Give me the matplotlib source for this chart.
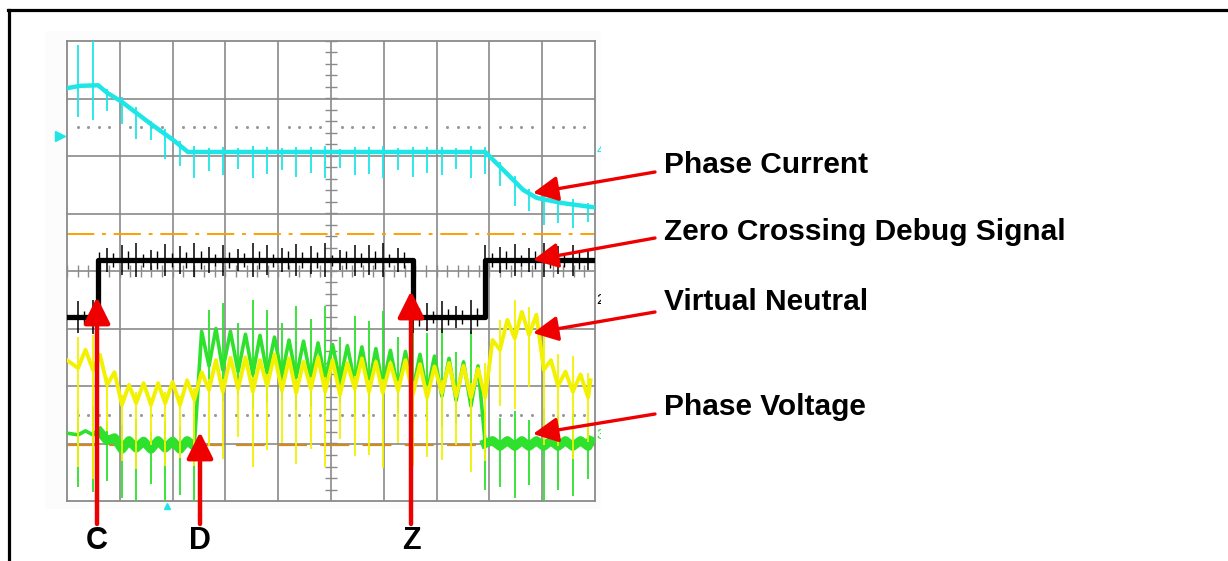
import numpy as np
import matplotlib
matplotlib.use("Agg")
import matplotlib.pyplot as plt

plt.rcParams['font.family'] = ['Liberation Sans', 'DejaVu Sans']

# scope traces, time in divisions (0..10), level in divisions (-4..4)
PWM_EDGES = [0.21, 0.49, 0.76, 1.04, 1.31, 1.59, 1.86, 2.14, 2.41, 2.69, 2.95, 3.24,
             3.52, 3.79, 4.07, 4.34, 4.62, 4.89, 5.17, 5.45, 5.72, 5.98, 6.27, 6.55,
             6.82, 7.10, 7.37, 7.65, 7.92, 8.20, 8.48, 8.75, 9.03, 9.30, 9.58, 9.87]
SPIKE_VAR = [0.9, 1.0, 0.7, 0.85, 1.0, 0.6, 0.95, 0.8, 1.0, 0.75, 0.9, 0.65,
             1.0, 0.85, 0.7, 0.95, 0.8, 1.0, 0.6, 0.9, 0.85, 1.0, 0.7, 0.95,
             0.8, 0.9, 0.65, 1.0, 0.85, 0.75, 0.95, 0.7, 1.0, 0.8, 0.9, 0.6]

# phase current (cyan)
CYAN_T = [0, 0.25, 0.59, 0.76, 1.04, 1.57, 2.01, 2.29, 7.92, 8.26, 8.64, 8.90, 9.39, 9.96]
CYAN_V = [3.18, 3.22, 3.23, 3.10, 2.94, 2.57, 2.28, 2.07, 2.07, 1.76, 1.41, 1.27, 1.18, 1.11]
CYAN_SPIKES = [(0, 0.6, 0.6, 0.8), (0.6, 10, 0.45, 0.1)]

# zero crossing debug signal (black)
BLACK_T = [0, 0.59, 0.59, 6.55, 6.55, 7.92, 7.92, 9.96]
BLACK_V = [-0.80, -0.80, 0.19, 0.19, -0.80, -0.80, 0.19, 0.19]
BLACK_SPIKES = [(0, 10, 0.3, 0.3)]
BLACK_NOISE = [(0, 10, 0.16, 0.16)]

# virtual neutral (yellow): value at each PWM edge and between edges
YEL_START = -1.55
YEL_LO = [-1.69, -1.72, -1.98, -2.33, -2.30, -2.33, -2.30, -2.33, -2.24, -2.07, -2.10, -2.05,
          -2.10, -2.00, -2.08, -2.12, -2.05, -2.10, -2.15, -2.05, -2.10, -2.12, -2.08, -2.15,
          -2.20, -2.12, -2.18, -2.20, -2.20, -1.37, -1.17, -1.11, -1.72, -2.00, -2.10, -2.20]
YEL_HI = [-1.37, -1.46, -1.76, -1.98, -1.95, -1.95, -1.93, -1.90, -1.76, -1.55, -1.51, -1.50,
          -1.55, -1.45, -1.52, -1.58, -1.50, -1.55, -1.60, -1.52, -1.58, -1.60, -1.55, -1.62,
          -1.66, -1.60, -1.65, -1.70, -1.20, -0.85, -0.71, -0.76, -1.55, -1.75, -1.80, -1.90]
YEL_SPIKES = [(0, 0.6, 1.9, 0.6), (0.6, 2.45, 1.15, 0.2), (2.45, 7.9, 1.3, 0.25), (7.9, 10, 1.3, 0.7)]

# phase voltage (green)
GRN_START = -2.82
GRN_LO = [-2.85, -2.85, -2.95, -3.10, -3.08, -3.10, -3.08, -3.10, -3.05, -1.65, -1.72, -1.75,
          -1.80, -1.78, -1.82, -1.85, -1.88, -1.90, -1.92, -1.95, -1.98, -2.00, -2.05, -2.08,
          -2.12, -2.18, -2.25, -2.35, -3.00, -3.05, -3.05, -3.05, -3.05, -3.05, -3.05, -3.05]
GRN_HI = [-2.78, -2.80, -2.90, -2.95, -2.96, -2.95, -2.96, -2.95, -1.05, -1.00, -1.05, -1.10,
          -1.12, -1.15, -1.20, -1.22, -1.25, -1.28, -1.30, -1.32, -1.35, -1.38, -1.40, -1.45,
          -1.48, -1.52, -1.58, -1.65, -2.95, -2.95, -2.95, -2.95, -2.95, -2.95, -2.95, -2.95]
GRN_SPIKES = [(0, 2.45, 1.0, 0.5), (2.45, 7.9, 0.6, 1.3), (7.9, 10, 0.95, 0.65)]
GRN_BANDS = [(0.6, 2.45), (7.92, 9.96)]

REF_DASHDOT = 0.64
REF_DASHED = -3.03

LABELS = ['Phase Current', 'Zero Crossing Debug Signal', 'Virtual Neutral', 'Phase Voltage']
LABEL_BASE = [173, 240, 310, 415]
ARROW_TAIL = [(655, 172), (655, 238), (655, 312), (655, 414)]
ARROW_TIP = [(533, 193), (533, 260), (533, 333), (533, 434)]

MARKS = ['C', 'D', 'Z']
MARK_X = [97, 200, 411]
MARK_TIP = [297, 432, 291]

CYAN = '#1ee6e6'
YELLOW = '#f2f200'
GREEN = '#2de12d'


def ripple(start, lo, hi):
    t = [0]
    v = [start]
    for k in range(len(PWM_EDGES)):
        nxt = PWM_EDGES[k + 1] if k + 1 < len(PWM_EDGES) else 9.96
        t += [PWM_EDGES[k], (PWM_EDGES[k] + nxt) / 2]
        v += [lo[k], hi[k]]
    return t, v


def spikes(ax, t, v, regions, color, lw=1.3, shift=0.0):
    # vertical switching spikes at the PWM edges (or shifted between them)
    for k, e in enumerate(PWM_EDGES):
        e = e + shift
        if e > 9.96:
            continue
        base = np.interp(e, t, v)
        for t0, t1, down, up in regions:
            if t0 <= e < t1:
                s = SPIKE_VAR[-1 - k] if shift else SPIKE_VAR[k]
                ax.vlines(e, base - down * s, base + up * s, color=color, lw=lw, zorder=3)


fig = plt.figure(figsize=(12.28, 5.61), dpi=100)

# background layer: frame and scope surround
bg = fig.add_axes([0, 0, 1, 1])
bg.set_xlim(0, 1228)
bg.set_ylim(561, 0)
bg.axis('off')
bg.add_patch(plt.Rectangle((45, 31), 556, 478, color='#fcfcfc', lw=0))
bg.plot([8, 1228], [10, 10], color='black', lw=2.3)
bg.plot([9, 9], [10, 561], color='black', lw=2.3)

# scope screen
ax = fig.add_axes([67 / 1228, 60 / 561, 528 / 1228, 460 / 561])
ax.set_xlim(0, 10)
ax.set_ylim(-4, 4)
ax.set_facecolor('white')
ax.set_xticks([])
ax.set_yticks([])
for sp in ax.spines.values():
    sp.set_color('#8a8a8a')
    sp.set_linewidth(1.3)
for x in range(1, 10):
    ax.axvline(x, color='#8a8a8a', lw=1.2, zorder=1)
for y in range(-3, 4):
    ax.axhline(y, color='#8a8a8a', lw=1.2, zorder=1)
fine = np.arange(0, 10.01, 0.2)
ax.vlines(fine, -0.1, 0.1, color='#8a8a8a', lw=1.0, zorder=1)
fine_y = np.arange(-4, 4.01, 0.2)
ax.hlines(fine_y, 4.89, 5.11, color='#8a8a8a', lw=1.0, zorder=1)
dots = [x for x in fine if abs(x - round(x)) > 0.05]
ax.scatter(dots, [2.5] * len(dots), s=1.5, color='#9a9a9a', zorder=1)
ax.scatter(dots, [-2.5] * len(dots), s=1.5, color='#9a9a9a', zorder=1)

ax.axhline(REF_DASHDOT, color='#ffa000', lw=1.4, dashes=(14, 4, 2, 4), zorder=2)
ax.axhline(REF_DASHED, color='#d08a20', lw=1.6, dashes=(13, 6), zorder=2)

gt, gv = ripple(GRN_START, GRN_LO, GRN_HI)
ax.plot(gt, gv, color=GREEN, lw=2.6, zorder=3)
for t0, t1 in GRN_BANDS:
    m = [(a, b) for a, b in zip(gt, gv) if t0 <= a <= t1]
    ax.plot([a for a, b in m], [b for a, b in m], color=GREEN, lw=6.5, zorder=3)
spikes(ax, gt, gv, GRN_SPIKES, GREEN)

yt, yv = ripple(YEL_START, YEL_LO, YEL_HI)
ax.plot(yt, yv, color=YELLOW, lw=2.8, zorder=4)
spikes(ax, yt, yv, YEL_SPIKES, YELLOW)

ax.plot(BLACK_T, BLACK_V, color='black', lw=3.8, zorder=5)
spikes(ax, BLACK_T, BLACK_V, BLACK_SPIKES, 'black', lw=1.1)
spikes(ax, BLACK_T, BLACK_V, BLACK_NOISE, 'black', lw=1.0, shift=0.12)

ax.plot(CYAN_T, CYAN_V, color=CYAN, lw=3.2, zorder=6)
spikes(ax, CYAN_T, CYAN_V, CYAN_SPIKES, CYAN)

# channel markers
ax.plot([-0.13], [2.35], marker='>', color=CYAN, ms=7, clip_on=False)
ax.plot([1.89], [-4.08], marker='^', color=CYAN, ms=5, clip_on=False)
ax.text(10.03, 2.1, '4', color=CYAN, fontsize=11, va='center', clip_on=False)
ax.text(10.03, -0.5, '2', color='black', fontsize=11, va='center', clip_on=False)
ax.text(10.03, -2.85, '3', color=GREEN, fontsize=11, va='center', clip_on=False)

# annotation layer
ov = fig.add_axes([0, 0, 1, 1])
ov.set_xlim(0, 1228)
ov.set_ylim(561, 0)
ov.axis('off')
ov.patch.set_alpha(0)
ov.add_patch(plt.Rectangle((601, 100), 40, 370, color='white', lw=0))

for txt, yb, tail, tip in zip(LABELS, LABEL_BASE, ARROW_TAIL, ARROW_TIP):
    ov.text(664, yb, txt, fontsize=21.5, fontweight='bold', va='baseline', ha='left')
    ov.annotate('', xy=tip, xytext=tail,
                arrowprops=dict(arrowstyle='-|>', color='#ee0000', lw=2.4,
                                mutation_scale=38, shrinkA=0, shrinkB=0))

for m, x, tip in zip(MARKS, MARK_X, MARK_TIP):
    ov.annotate('', xy=(x, tip), xytext=(x, 524),
                arrowprops=dict(arrowstyle='-|>', color='#ee0000', lw=3.2,
                                mutation_scale=40, shrinkA=0, shrinkB=0))
    ov.text(x, 549, m, fontsize=22, fontweight='bold', ha='center', va='baseline')

fig.savefig('out.png', dpi=100)
